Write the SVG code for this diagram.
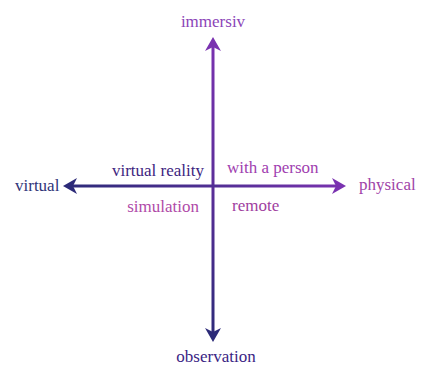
<svg xmlns="http://www.w3.org/2000/svg" width="421" height="365" viewBox="0 0 421 365">
<style>
.t{font-family:'Liberation Serif','DejaVu Serif',serif;font-size:17px}
.ax{fill:none;stroke-width:3}
</style>
<defs>
<linearGradient id="gv" gradientUnits="userSpaceOnUse" x1="0" y1="40" x2="0" y2="340">
<stop offset="0" stop-color="#7A32B0"/><stop offset="0.5" stop-color="#5A2E98"/><stop offset="1" stop-color="#2C2A78"/>
</linearGradient>
<linearGradient id="gh" gradientUnits="userSpaceOnUse" x1="63" y1="0" x2="346" y2="0">
<stop offset="0" stop-color="#2C2A78"/><stop offset="0.5" stop-color="#4E2E92"/><stop offset="1" stop-color="#7A32B0"/>
</linearGradient>
<marker id="mP" markerUnits="userSpaceOnUse" viewBox="-6 -10 18 20" markerWidth="18" markerHeight="20" refX="0" refY="0" orient="auto-start-reverse"><path d="M10,0 L-4,-8 L0,0 L-4,8 Z" fill="#7A32B0"/></marker>
<marker id="mN" markerUnits="userSpaceOnUse" viewBox="-6 -10 18 20" markerWidth="18" markerHeight="20" refX="0" refY="0" orient="auto-start-reverse"><path d="M10,0 L-4,-8 L0,0 L-4,8 Z" fill="#2C2A78"/></marker>
</defs>
<g id="connectors">
<path class="ax" d="M213,47 L213,332" stroke="url(#gv)" marker-start="url(#mP)" marker-end="url(#mN)"/>
<path class="ax" d="M73,186 L336,186" stroke="url(#gh)" marker-start="url(#mN)" marker-end="url(#mP)"/>
</g>
<g id="immersiv"><text class="t" x="213" y="27" text-anchor="middle" fill="#8B44B8" font-family="Liberation Serif, serif">immersiv</text></g>
<g id="observation"><text class="t" x="216" y="362" text-anchor="middle" fill="#3A1E84">observation</text></g>
<g id="virtual"><text class="t" x="15" y="191" fill="#2F3478">virtual</text></g>
<g id="physical"><text class="t" x="359" y="190" fill="#A044A8">physical</text></g>
<g id="virtual-reality"><text class="t" x="204" y="176" text-anchor="end" fill="#3D2580">virtual reality</text></g>
<g id="simulation"><text class="t" x="199" y="212" text-anchor="end" fill="#B04AA8">simulation</text></g>
<g id="with-a-person"><text class="t" x="227" y="173" fill="#A040B0">with a person</text></g>
<g id="remote"><text class="t" x="232" y="211" fill="#A040A0">remote</text></g>
</svg>
